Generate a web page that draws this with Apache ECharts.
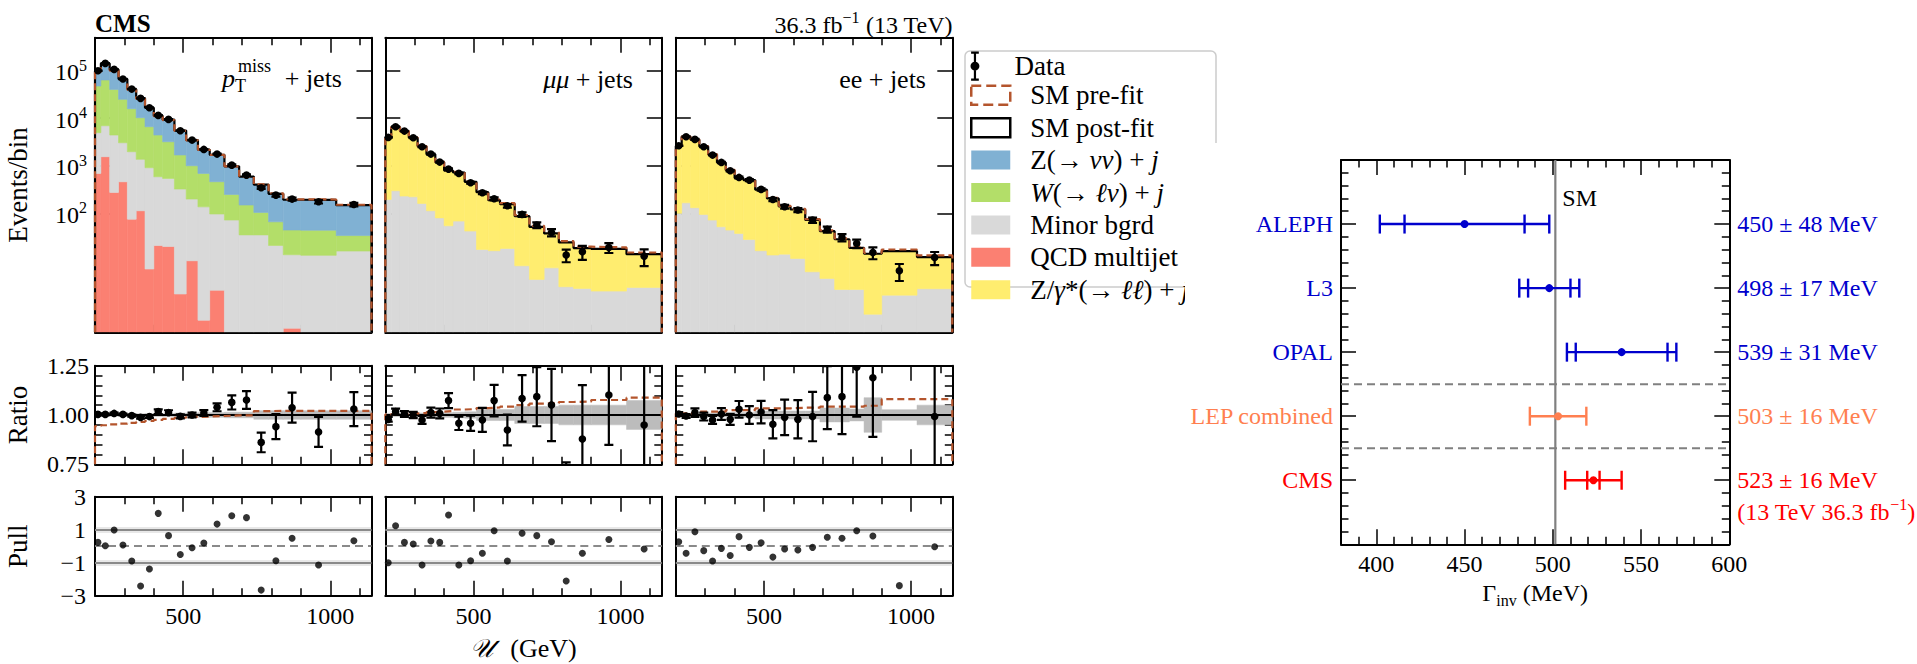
<!DOCTYPE html>
<html lang="en">
<head>
<meta charset="utf-8">
<title>Z invisible width: recoil distributions and comparison of measurements</title>
<script src="https://cdn.jsdelivr.net/npm/echarts@6.0.0/dist/echarts.min.js"></script>
<style>
html,body{margin:0;padding:0;background:#fff;}
#chart{width:1917px;height:664px;}
</style>
</head>
<body>
<div id="chart"></div>
<script>
// ---------- binning of the hadronic recoil U (GeV) ----------
const binEdges = [200,220,250,280,310,340,370,400,430,470,510,550,590,640,690,740,790,840,900,1020,1140];

// ---------- pTmiss + jets region: post-fit stacked components (events / bin) ----------
const metQCD   = [690,1550,275,460,75,113,6.7,21,20,2.0,10,0.56,2.4,0,0,0,0,0.38,0,0];
const metMinor = [4270,5400,4150,2590,1900,1250,900,566,521,321,189,136,94,72,35,35,21,13,13,16];
const metW     = [42600,56700,36000,21900,13900,8890,5710,3840,2660,1360,801,553,364,177,114,69,45,31,31,18];
const metZnn   = [52200,78700,65400,41800,25400,16300,10100,6880,6140,3810,2470,1490,1240,722,442,296,190,148,147,114];
const metData  = [100000,142700,106700,66900,41100,26200,16600,11480,9450,5450,3470,2206,1762,1033,636,344,241,199,175,153];

// ---------- mumu + jets region ----------
const mmMinor = [195,298,230,222,161,113,80,54.5,68.4,42.2,17.3,16.3,18.2,7.85,4.05,7.1,2.84,2.62,2.3,2.75];
const mmZll   = [3840,6210,5110,3660,2410,1630,1105,739,652,416,260,172,138,79,47.5,30.5,21.5,15.9,15.5,11.0];
const mmData  = [3945,6620,5370,3880,2510,1762,1195,851,690,439,270,202,144,94.5,56.3,39.5,13.2,15.5,19.1,12.5];

// ---------- ee + jets region ----------
const eeMinor = [100,166,131,94.5,71.8,52,44.2,37.6,28.1,16.3,13.2,13.8,11.2,5.87,4.25,2.49,2.49,0.75,1.89,2.58];
const eeZll   = [2520,3930,3410,2440,1650,1120,759,514,471,297,192,125,109,66.5,37.8,25.9,16.2,13.3,14.1,9.4];
const eeData  = [2637,4080,3585,2512,1679,1175,785,568,499,318,195,137,117,71.8,45.7,31.0,23.2,15.0,6.15,11.7];

// ---------- data / post-fit ratios, their uncertainties, pre-fit / post-fit, post-fit band ----------
const metRatio    = [1.003,1.003,1.008,1.003,0.997,0.988,0.992,1.017,1.012,0.993,1.000,1.010,1.039,1.064,1.076,0.861,0.941,1.037,0.914,1.030];
const metRatioErr = [0.004,0.004,0.004,0.004,0.005,0.006,0.007,0.012,0.012,0.010,0.012,0.015,0.020,0.036,0.045,0.050,0.063,0.076,0.076,0.086];
const metPrefit   = [0.944,0.948,0.952,0.956,0.960,0.965,0.970,0.975,0.980,0.986,0.990,0.992,0.995,0.998,0.998,1.020,1.021,1.021,1.021,1.021];
const metBand     = [0.006,0.006,0.006,0.006,0.006,0.006,0.007,0.007,0.008,0.010,0.010,0.012,0.012,0.014,0.014,0.022,0.022,0.022,0.022,0.022];

const mmRatio    = [0.978,1.017,1.005,1.000,0.975,1.012,1.008,1.073,0.958,0.958,0.975,1.073,0.924,1.084,1.093,1.051,0.600,0.878,1.101,0.949];
const mmRatioErr = [0.012,0.015,0.015,0.016,0.020,0.025,0.025,0.038,0.034,0.039,0.061,0.080,0.078,0.118,0.150,0.183,0.160,0.274,0.253,0.350];
const mmPrefit   = [1.003,1.005,1.006,1.008,1.010,1.015,1.017,1.020,1.028,1.030,1.035,1.038,1.042,1.050,1.058,1.060,1.066,1.068,1.076,1.088];
const mmBand     = [0.008,0.008,0.008,0.009,0.010,0.010,0.012,0.012,0.014,0.016,0.028,0.028,0.028,0.043,0.043,0.043,0.050,0.050,0.050,0.073];

const eeRatio    = [1.005,0.995,1.012,0.992,0.975,1.005,0.978,1.029,1.000,1.015,0.953,0.988,0.978,0.992,1.088,1.093,1.242,1.189,0.380,0.992];
const eeRatioErr = [0.010,0.010,0.022,0.020,0.020,0.030,0.028,0.042,0.045,0.057,0.072,0.090,0.097,0.125,0.160,0.190,0.250,0.300,0.150,0.300];
const eePrefit   = [1.008,1.008,1.008,1.017,1.017,1.017,1.025,1.025,1.025,1.034,1.034,1.034,1.037,1.037,1.042,1.042,1.042,1.047,1.080,1.080];
const eeBand     = [0.008,0.008,0.008,0.009,0.010,0.010,0.010,0.012,0.012,0.020,0.020,0.020,0.020,0.020,0.035,0.035,0.030,0.088,0.027,0.050];

// ---------- pulls ----------
const metPull = [0.23,0.03,0.98,0.07,-0.90,-2.41,-1.38,1.99,0.64,-0.50,-0.09,0.19,1.34,1.85,1.73,-2.66,-0.88,0.48,-1.14,0.33];
const mmPull  = [-1.00,1.24,0.23,0.13,-1.14,0.31,0.23,1.89,-1.14,-0.88,-0.43,0.94,-0.90,0.78,0.64,0.27,-2.11,-0.43,0.41,-0.17];
const eePull  = [0.27,-0.43,0.88,-0.27,-0.90,-0.13,-0.56,0.58,-0.07,0.21,-0.66,-0.17,-0.23,-0.07,0.54,0.48,0.94,0.62,-2.39,-0.03];

// ---------- tick positions / labels ----------
const uMinorTicks = [300,400,600,700,800,900,1100];
const uMajorTicks = [500,1000];
const uTickLabels = [500,1000];
const eventsTicks = [100,1000,10000,100000];
const ratioMinorTicks = [0.8,0.85,0.9,0.95,1.05,1.1,1.15,1.2];
const ratioMajorTicks = [0.75,1.0,1.25];
const ratioTickLabels = [0.75,1.0,1.25];
const pullTicks = [-3,-1,1,3];

// ---------- invisible width measurements (MeV) ----------
const experiments = ['ALEPH','L3','OPAL','LEP combined','CMS'];
const central     = [450,498,539,503,523];
const totalErr    = [48,17,31,16,16];
const innerErr    = [34,12,26,0,3.5];
const rowPos      = [5,4,3,2,1];
const rowColors   = ['#0000cd','#0000cd','#0000cd','#ff7f50','#ff0000'];
const separatorPos = [1.5,2.5];
const SM_WIDTH = 501.44;
const gammaMinorTicks = [390,410,420,430,440,460,470,480,490,510,520,530,540,560,570,580,590];
const gammaMajorTicks = [400,450,500,550,600];
const gammaTickLabels = [400,450,500,550,600];
const rowMinorTicks = [0.2,0.4,0.6,0.8,1.2,1.4,1.6,1.8,2.2,2.4,2.6,2.8,3.2,3.4,3.6,3.8,4.2,4.4,4.6,4.8,5.2,5.4,5.6,5.8];

// ---------- styling ----------
const FONT = '"Liberation Serif","DejaVu Serif",serif';
const C_Z = '#80b1d3', C_W = '#b3de69', C_MINOR = '#d9d9d9', C_QCD = '#fb8072', C_ZLL = '#ffed6f', C_PRE = '#b4552d';
const LOG_MIN = Math.pow(10, -0.505), LOG_MAX = Math.pow(10, 5.695);
const NB = binEdges.length - 1;
const binCenters = binEdges.slice(0, -1).map((e, i) => (e + binEdges[i + 1]) / 2);

const grid = [], xAxis = [], yAxis = [], series = [];

function tickSet(vals, len) {
  return {show: vals.length > 0, inside: true, length: len, customValues: vals, lineStyle: {color: '#000', width: 1.5}};
}
function labelSet(L) {
  if (!L) return {show: false};
  return Object.assign({show: true, color: '#000', fontFamily: FONT, fontSize: 24, formatter: v => String(v)}, L);
}
// one frame = axis line + short ticks on both sides, plus an overlay carrying the long ticks
function axisSet(gi, s, pos, opp) {
  const base = {gridIndex: gi, type: s.type || 'value', min: s.min, max: s.max,
    splitLine: {show: false}, splitArea: {show: false}, axisPointer: {show: false}, silent: true};
  if (s.type === 'log') base.logBase = 10;
  const line = {show: true, onZero: false, lineStyle: {color: '#000', width: 2}};
  const hidden = {show: false, onZero: false};
  const first = Object.assign({}, base, {position: pos, axisLine: line, axisTick: tickSet(s.minor, 7.5), axisLabel: labelSet(s.label)}, s.title || {});
  return [
    first,
    Object.assign({}, base, {position: pos, axisLine: hidden, axisTick: tickSet(s.major, 15), axisLabel: {show: false}}),
    Object.assign({}, base, {position: opp, axisLine: line, axisTick: tickSet(s.minor, 7.5), axisLabel: labelSet(s.oppLabel)}),
    Object.assign({}, base, {position: opp, axisLine: hidden, axisTick: tickSet(s.major, 15), axisLabel: {show: false}})
  ];
}
function addBox(rect, xs, ys) {
  const gi = grid.length;
  grid.push({left: rect[0], top: rect[1], width: rect[2], height: rect[3], containLabel: false, outerBoundsMode: 'none'});
  const xi = xAxis.length, yi = yAxis.length;
  xAxis.push(...axisSet(gi, xs, 'bottom', 'top'));
  yAxis.push(...axisSet(gi, ys, 'left', 'right'));
  return {xi, yi};
}

function stackSeries(name, color, b, lower, upper) {
  return {
    type: 'custom', name, xAxisIndex: b.xi, yAxisIndex: b.yi, clip: true, silent: true, z: 1,
    encode: {x: [0, 1], y: [2, 3]},
    data: lower.map((lo, i) => {
      const l = lo > LOG_MIN ? lo : LOG_MIN;
      const h = upper[i] > l ? upper[i] : l;
      return [binEdges[i], binEdges[i + 1], l, h];
    }),
    renderItem(params, api) {
      const lo = api.value(2), hi = api.value(3);
      if (!(hi > lo)) return null;
      const a = api.coord([api.value(0), hi]);
      const c = api.coord([api.value(1), lo]);
      return {type: 'rect', shape: {x: a[0], y: a[1], width: c[0] - a[0], height: c[1] - a[1]},
        style: {fill: color, stroke: color, lineWidth: 0.6}};
    }
  };
}

function stepLine(name, b, vals, floor, color, dashed, z) {
  const pts = [[binEdges[0], floor]];
  vals.forEach((v, i) => pts.push([binEdges[i], v]));
  pts.push([binEdges[NB], vals[NB - 1]], [binEdges[NB], floor]);
  return {type: 'line', name, xAxisIndex: b.xi, yAxisIndex: b.yi, data: pts, step: 'end',
    showSymbol: false, symbol: 'none', clip: true, silent: true, z: z || 6,
    lineStyle: {color, width: 2.2, type: dashed ? [7, 4] : 'solid'}, itemStyle: {color}};
}

function errorBars(b, vals, errs, floor) {
  return {
    type: 'custom', name: 'Data', xAxisIndex: b.xi, yAxisIndex: b.yi, clip: true, silent: true, z: 10,
    encode: {x: 0, y: 1},
    data: vals.map((v, i) => [binCenters[i], v, errs[i]]),
    renderItem(params, api) {
      const x = api.value(0), v = api.value(1), e = api.value(2);
      const c = api.coord([x, v]);
      const hi = api.coord([x, v + e]);
      const loV = v - e;
      const lo = api.coord([x, loV > floor ? loV : floor]);
      const cap = 4.5, st = {stroke: '#000', lineWidth: 2.2};
      const kids = [
        {type: 'line', shape: {x1: c[0], y1: hi[1], x2: c[0], y2: lo[1]}, style: st},
        {type: 'line', shape: {x1: c[0] - cap, y1: hi[1], x2: c[0] + cap, y2: hi[1]}, style: st}
      ];
      if (loV > floor) kids.push({type: 'line', shape: {x1: c[0] - cap, y1: lo[1], x2: c[0] + cap, y2: lo[1]}, style: st});
      kids.push({type: 'circle', shape: {cx: c[0], cy: c[1], r: 3.8}, style: {fill: '#000'}});
      return {type: 'group', children: kids};
    }
  };
}

function bandSeries(b, half) {
  return {
    type: 'custom', name: 'Post-fit uncertainty', xAxisIndex: b.xi, yAxisIndex: b.yi, clip: true, silent: true, z: 2,
    encode: {x: [0, 1], y: [2, 3]},
    data: half.map((h, i) => [binEdges[i], binEdges[i + 1], 1 - h, 1 + h]),
    renderItem(params, api) {
      const a = api.coord([api.value(0), api.value(3)]);
      const c = api.coord([api.value(1), api.value(2)]);
      return {type: 'rect', shape: {x: a[0], y: a[1], width: c[0] - a[0], height: c[1] - a[1]},
        style: {fill: '#bcbcbc', stroke: '#bcbcbc', lineWidth: 0.5}};
    }
  };
}

const supRich = (color) => ({
  b: {fontFamily: FONT, fontSize: 24, color, verticalAlign: 'bottom'},
  s: {fontFamily: FONT, fontSize: 16, color, verticalAlign: 'bottom', padding: [0, 0, 11, 0]}
});

const channels = [
  {comps: [['QCD multijet', metQCD, C_QCD], ['Minor bgrd', metMinor, C_MINOR], ['W(→ ℓν) + j', metW, C_W], ['Z(→ νν) + j', metZnn, C_Z]],
   data: metData, ratio: metRatio, ratioErr: metRatioErr, prefit: metPrefit, band: metBand, pull: metPull},
  {comps: [['Minor bgrd', mmMinor, C_MINOR], ['Z/γ*(→ ℓℓ) + j', mmZll, C_ZLL]],
   data: mmData, ratio: mmRatio, ratioErr: mmRatioErr, prefit: mmPrefit, band: mmBand, pull: mmPull},
  {comps: [['Minor bgrd', eeMinor, C_MINOR], ['Z/γ*(→ ℓℓ) + j', eeZll, C_ZLL]],
   data: eeData, ratio: eeRatio, ratioErr: eeRatioErr, prefit: eePrefit, band: eeBand, pull: eePull}
];

const colLeft = [95, 385.3, 675.8], colW = 276.5;
const ROW_MAIN = [37.7, 294.6], ROW_RATIO = [365.7, 98.6], ROW_PULL = [496.7, 99];
const nameStyle = {fontFamily: FONT, fontSize: 27, color: '#000'};

channels.forEach((ch, k) => {
  const first = k === 0;
  const uSpec = (withLabels, title) => ({min: binEdges[0], max: binEdges[NB], minor: uMinorTicks, major: uMajorTicks,
    label: withLabels ? {customValues: uTickLabels, margin: 8} : null, title});

  // upper panel: stacked yields on a log scale
  const mb = addBox([colLeft[k], ROW_MAIN[0], colW, ROW_MAIN[1]], uSpec(false),
    {type: 'log', min: LOG_MIN, max: LOG_MAX, minor: [], major: eventsTicks,
     label: first ? {customValues: eventsTicks, margin: 8, formatter: v => '{b|10}{s|' + Math.round(Math.log10(v)) + '}', rich: supRich('#000')} : null,
     title: first ? {name: 'Events/bin', nameLocation: 'middle', nameGap: 64, nameRotate: 90, nameTextStyle: nameStyle} : null});
  let cum = new Array(NB).fill(0);
  ch.comps.forEach(([name, vals, color]) => {
    const lower = cum.slice();
    cum = cum.map((c, i) => c + vals[i]);
    series.push(stackSeries(name, color, mb, lower, cum));
  });
  const total = cum;
  series.push(stepLine('SM post-fit', mb, total, LOG_MIN, '#000', false, 6));
  series.push(stepLine('SM pre-fit', mb, total.map((t, i) => t * ch.prefit[i]), LOG_MIN, C_PRE, true, 7));
  series.push(errorBars(mb, ch.data, ch.ratioErr.map((e, i) => e * total[i]), LOG_MIN * 0.01));

  // middle panel: ratio to post-fit
  const rb = addBox([colLeft[k], ROW_RATIO[0], colW, ROW_RATIO[1]], uSpec(false),
    {min: 0.75, max: 1.25, minor: ratioMinorTicks, major: ratioMajorTicks,
     label: first ? {customValues: ratioTickLabels, margin: 6, formatter: v => v.toFixed(2)} : null,
     title: first ? {name: 'Ratio', nameLocation: 'middle', nameGap: 64, nameRotate: 90, nameTextStyle: nameStyle} : null});
  series.push(bandSeries(rb, ch.band));
  const preRatio = stepLine('SM pre-fit', rb, ch.prefit, 0.75, C_PRE, true, 7);
  preRatio.markLine = {silent: true, symbol: 'none', label: {show: false}, animation: false,
    lineStyle: {color: '#000', width: 2, type: 'solid'}, data: [{yAxis: 1}]};
  series.push(preRatio);
  series.push(errorBars(rb, ch.ratio, ch.ratioErr, -10));

  // lower panel: pulls
  const pb = addBox([colLeft[k], ROW_PULL[0], colW, ROW_PULL[1]],
    uSpec(true, k === 1 ? {name: '{u|𝒰}  (GeV)', nameLocation: 'middle', nameGap: 40,
      nameTextStyle: {fontFamily: FONT, fontSize: 26, color: '#000', rich: {u: {fontFamily: FONT, fontSize: 26, fontStyle: 'italic', padding: [0, 4, 0, 0]}}}} : null),
    {min: -3, max: 3, minor: [], major: pullTicks,
     label: first ? {customValues: pullTicks, margin: 9, formatter: v => v < 0 ? '−' + Math.abs(v) : String(v)} : null,
     title: first ? {name: 'Pull', nameLocation: 'middle', nameGap: 64, nameRotate: 90, nameTextStyle: nameStyle} : null});
  const halo = {color: 'rgba(128,128,128,0.18)', width: 6, type: 'solid'};
  const solid = {color: '#8a8a8a', width: 2, type: 'solid'};
  series.push({type: 'scatter', name: 'Data', xAxisIndex: pb.xi, yAxisIndex: pb.yi, silent: true, z: 10, clip: true,
    data: ch.pull.map((p, i) => [binCenters[i], p]), symbol: 'circle', symbolSize: 7, itemStyle: {color: '#000'},
    markLine: {silent: true, symbol: 'none', label: {show: false}, animation: false, data: [
      {yAxis: 1, lineStyle: halo}, {yAxis: -1, lineStyle: halo},
      {yAxis: 1, lineStyle: solid}, {yAxis: -1, lineStyle: solid},
      {yAxis: 0, lineStyle: {color: '#8a8a8a', width: 2, type: [8, 5]}}]}});
});

// ---------- right figure: invisible width comparison ----------
const rowRich = {};
rowColors.forEach((c, i) => {
  rowRich['r' + i] = {fontFamily: FONT, fontSize: 24, color: c, verticalAlign: 'bottom'};
  rowRich['s' + i] = {fontFamily: FONT, fontSize: 16, color: c, verticalAlign: 'bottom', padding: [0, 0, 11, 0]};
});
const cmsNoteRow = 0.53;
const gb = addBox([1341, 160, 388.3, 384.3],
  {min: 380, max: 600, minor: gammaMinorTicks, major: gammaMajorTicks, label: {customValues: gammaTickLabels, margin: 8},
   title: {name: '{n|Γ}{sub|inv}{n| (MeV)}', nameLocation: 'middle', nameGap: 32,
     nameTextStyle: {fontFamily: FONT, fontSize: 24, color: '#000', rich: {
       n: {fontFamily: FONT, fontSize: 24, color: '#000', verticalAlign: 'top'},
       sub: {fontFamily: FONT, fontSize: 16, color: '#000', verticalAlign: 'top', padding: [11, 0, 0, 0]}}}}},
  {min: 0, max: 6, minor: rowMinorTicks, major: rowPos,
   label: {customValues: rowPos, margin: 8, rich: rowRich, formatter: v => {
     const i = rowPos.indexOf(v); return '{r' + i + '|' + experiments[i] + '}'; }},
   oppLabel: {customValues: rowPos.concat([cmsNoteRow]), margin: 8, rich: rowRich, formatter: v => {
     if (Math.abs(v - cmsNoteRow) < 1e-6) return '{r4|(13 TeV 36.3 fb}{s4|−1}{r4|)}';
     const i = rowPos.indexOf(v);
     return '{r' + i + '|' + central[i] + ' ± ' + totalErr[i] + ' MeV}'; }}});

// reference line for the SM expectation and its tag
series.push({type: 'custom', name: 'SM', xAxisIndex: gb.xi, yAxisIndex: gb.yi, silent: true, z: 3,
  encode: {x: 0, y: 1}, data: [[SM_WIDTH, 0]],
  renderItem(params, api) {
    const v = api.value(0);
    const b = api.coord([v, 0]), t = api.coord([v, 6]), lab = api.coord([v, 5.4]);
    return {type: 'group', children: [
      {type: 'line', shape: {x1: b[0], y1: b[1], x2: t[0], y2: t[1]}, style: {stroke: '#808080', lineWidth: 2.2}},
      {type: 'text', x: lab[0] + 7, y: lab[1], style: {text: 'SM', fill: '#000', font: '24px ' + FONT,
        align: 'left', verticalAlign: 'middle', textAlign: 'left', textVerticalAlign: 'middle'}}]};
  }});
// dashed separators between groups of results
series.push({type: 'custom', name: 'separators', xAxisIndex: gb.xi, yAxisIndex: gb.yi, silent: true, z: 3,
  encode: {x: 0, y: 1}, data: separatorPos.map(p => [380, p]),
  renderItem(params, api) {
    const y = api.value(1);
    const a = api.coord([380, y]), c = api.coord([600, y]);
    return {type: 'line', shape: {x1: a[0], y1: a[1], x2: c[0], y2: c[1]},
      style: {stroke: '#808080', lineWidth: 2, lineDash: [8, 5]}};
  }});
// measurements with total (outer caps) and inner uncertainties
series.push({type: 'custom', name: 'Γinv measurements', xAxisIndex: gb.xi, yAxisIndex: gb.yi, silent: true, z: 10,
  encode: {x: 0, y: 1},
  data: experiments.map((n, i) => [central[i], rowPos[i], totalErr[i], innerErr[i]]),
  renderItem(params, api) {
    const i = params.dataIndex;
    const c = api.value(0), y = api.value(1), e = api.value(2), s = api.value(3);
    const col = rowColors[i], st = {stroke: col, lineWidth: 2.4}, h = 9.5;
    const L = api.coord([c - e, y]), R = api.coord([c + e, y]), C = api.coord([c, y]);
    const capAt = p => ({type: 'line', shape: {x1: p[0], y1: p[1] - h, x2: p[0], y2: p[1] + h}, style: st});
    const kids = [{type: 'line', shape: {x1: L[0], y1: L[1], x2: R[0], y2: R[1]}, style: st}, capAt(L), capAt(R)];
    if (s > 0) { kids.push(capAt(api.coord([c - s, y])), capAt(api.coord([c + s, y]))); }
    kids.push({type: 'circle', shape: {cx: C[0], cy: C[1], r: 4}, style: {fill: col}});
    return {type: 'group', children: kids};
  }});

// ---------- legend ----------
const legendText = {
  'Data': 'Data', 'SM pre-fit': 'SM pre-fit', 'SM post-fit': 'SM post-fit',
  'Z(→ νν) + j': 'Z(→ {i|νν}) + {i|j}',
  'W(→ ℓν) + j': '{i|W}(→ {i|ℓν}) + {i|j}',
  'Minor bgrd': 'Minor bgrd', 'QCD multijet': 'QCD multijet',
  'Z/γ*(→ ℓℓ) + j': 'Z/{i|γ}*(→ {i|ℓℓ}) + {i|j}'
};
const legendTextStyle = {fontFamily: FONT, fontSize: 27, color: '#000', lineHeight: 23, padding: [0, 0, 0, 15],
  rich: {i: {fontFamily: FONT, fontSize: 27, fontStyle: 'italic', color: '#000'}}};
const DATA_ICON = 'path://M1,0L9,0M5,0L5,28M1,28L9,28M1.5,14A3.5,3.5,0,1,0,8.5,14A3.5,3.5,0,1,0,1.5,14Z';

const option = {
  animation: false,
  backgroundColor: '#fff',
  textStyle: {fontFamily: FONT},
  grid, xAxis, yAxis, series,
  legend: [
    {data: [{name: 'Data', icon: DATA_ICON, itemStyle: {color: '#000', borderColor: '#000', borderWidth: 2.2}}],
     left: 970, top: 51.5, orient: 'vertical', itemWidth: 39, itemHeight: 27, padding: 0, selectedMode: false,
     textStyle: legendTextStyle, formatter: n => legendText[n]},
    {data: [
      {name: 'SM pre-fit', icon: 'rect', itemStyle: {color: 'rgba(255,255,255,0)', borderColor: C_PRE, borderWidth: 2.5, borderType: 'dashed'}},
      {name: 'SM post-fit', icon: 'rect', itemStyle: {color: 'rgba(255,255,255,0)', borderColor: '#000', borderWidth: 2.5, borderType: 'solid'}},
      {name: 'Z(→ νν) + j', icon: 'rect', itemStyle: {color: C_Z, borderWidth: 0}},
      {name: 'W(→ ℓν) + j', icon: 'rect', itemStyle: {color: C_W, borderWidth: 0}},
      {name: 'Minor bgrd', icon: 'rect', itemStyle: {color: C_MINOR, borderWidth: 0}},
      {name: 'QCD multijet', icon: 'rect', itemStyle: {color: C_QCD, borderWidth: 0}},
      {name: 'Z/γ*(→ ℓℓ) + j', icon: 'rect', itemStyle: {color: C_ZLL, borderWidth: 0}}],
     left: 970, top: 81.8, orient: 'vertical', itemWidth: 39, itemHeight: 19, itemGap: 5.4, padding: 0, selectedMode: false,
     textStyle: legendTextStyle, formatter: n => legendText[n]}
  ],
  graphic: [
    {type: 'rect', z: -1, shape: {x: 965, y: 51, width: 251, height: 236, r: 5}, style: {fill: 'none', stroke: '#cccccc', lineWidth: 1.5}},
    {type: 'rect', z: 100, shape: {x: 1185, y: 143, width: 60, height: 160}, style: {fill: '#fff'}},
    {type: 'text', x: 95, y: 23, style: {text: 'CMS', font: 'bold 25px ' + FONT, fill: '#000', align: 'left', verticalAlign: 'middle', textAlign: 'left', textVerticalAlign: 'middle'}},
    {type: 'text', x: 952.5, y: 23, style: {text: '{b|36.3 fb}{s|−1}{b| (13 TeV)}', rich: supRich('#000'), font: '24px ' + FONT, fill: '#000', align: 'right', verticalAlign: 'middle', textAlign: 'right', textVerticalAlign: 'middle'}},
    {type: 'text', x: 222, y: 78, style: {text: 'p', font: 'italic 26px ' + FONT, fill: '#000', align: 'left', verticalAlign: 'middle', textAlign: 'left', textVerticalAlign: 'middle'}},
    {type: 'text', x: 238, y: 66, style: {text: 'miss', font: '18px ' + FONT, fill: '#000', align: 'left', verticalAlign: 'middle', textAlign: 'left', textVerticalAlign: 'middle'}},
    {type: 'text', x: 235, y: 86, style: {text: 'T', font: '18px ' + FONT, fill: '#000', align: 'left', verticalAlign: 'middle', textAlign: 'left', textVerticalAlign: 'middle'}},
    {type: 'text', x: 342, y: 78, style: {text: '+ jets', font: '26px ' + FONT, fill: '#000', align: 'right', verticalAlign: 'middle', textAlign: 'right', textVerticalAlign: 'middle'}},
    {type: 'text', x: 633, y: 79, style: {text: '{i|μμ} + jets', rich: {i: {fontStyle: 'italic', fontSize: 26, fontFamily: FONT}}, font: '26px ' + FONT, fill: '#000', align: 'right', verticalAlign: 'middle', textAlign: 'right', textVerticalAlign: 'middle'}},
    {type: 'text', x: 926, y: 79, style: {text: 'ee + jets', font: '26px ' + FONT, fill: '#000', align: 'right', verticalAlign: 'middle', textAlign: 'right', textVerticalAlign: 'middle'}}
  ]
};

const chart = echarts.init(document.getElementById('chart'), null, {renderer: 'svg', width: 1917, height: 664});
chart.setOption(option);
</script>
</body>
</html>
